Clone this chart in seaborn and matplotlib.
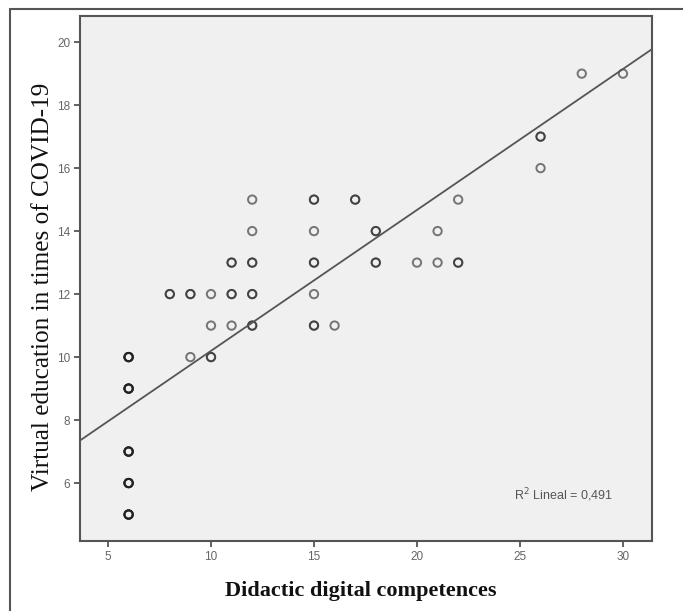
import numpy as np
import pandas as pd
import matplotlib.pyplot as plt
import seaborn as sns
from matplotlib.lines import Line2D
plt.switch_backend("Agg")

# points; darker circles are repeated cases
comp_x = [6, 6, 6, 6, 6, 8, 9, 9, 10, 10, 10, 11, 11, 11, 12, 12, 12, 12, 12,
          15, 15, 15, 15, 15, 16, 17, 18, 18, 20, 21, 21, 22, 22, 26, 26, 28, 30]
virt_y = [10, 9, 7, 6, 5, 12, 12, 10, 12, 11, 10, 13, 12, 11, 15, 14, 13, 12, 11,
          15, 14, 13, 12, 11, 11, 15, 14, 13, 13, 14, 13, 15, 13, 17, 16, 19, 19]
n_cases = [5, 5, 5, 5, 5, 2, 2, 1, 1, 1, 2, 2, 2, 1, 1, 1, 2, 2, 2,
           2, 1, 2, 1, 2, 1, 2, 2, 2, 1, 1, 1, 1, 2, 2, 1, 1, 1]

x_ticks = [5, 10, 15, 20, 25, 30]
y_ticks = [6, 8, 10, 12, 14, 16, 18, 20]
r2_label = "R$^2$ Lineal = 0,491"

df = pd.DataFrame({
    "x": np.repeat(comp_x, n_cases),
    "y": np.repeat(virt_y, n_cases),
})

sns.set_style("ticks")
plt.rcParams["font.family"] = ["Liberation Sans", "DejaVu Sans"]

grey = "#555555"
fig = plt.figure(figsize=(6.83, 6.11), dpi=100)
ax = fig.add_axes([80 / 683, 70 / 611, 572 / 683, 525 / 611])
ax.set_facecolor("#f0f0f0")
ax.set_xlim(3.64, 31.41)
ax.set_ylim(4.16, 20.83)

sns.scatterplot(data=df, x="x", y="y", ax=ax, marker="o", s=36,
                facecolor="none", edgecolor=(0.13, 0.13, 0.13, 0.6),
                linewidth=1.4, legend=False)
sns.regplot(data=df, x="x", y="y", ax=ax, scatter=False, ci=None,
            truncate=False, line_kws={"color": grey, "linewidth": 1.3})

ax.set_xticks(x_ticks)
ax.set_yticks(y_ticks)
ax.tick_params(direction="out", length=4, width=1.3, color=grey,
               labelsize=8.5, labelcolor="#666666", pad=3)
for sp in ax.spines.values():
    sp.set_color(grey)
    sp.set_linewidth(1.5)

ax.text(24.7, 5.6, r2_label, fontsize=9, color="#555555",
        ha="left", va="center")

ax.set_xlabel("Didactic digital competences", family="Liberation Serif",
              fontsize=16, fontweight="bold", color="#111111")
ax.xaxis.set_label_coords(0.49, -0.077)
ax.set_ylabel("Virtual education in times of COVID-19",
              family="Liberation Serif", fontsize=18.2, color="#111111")
ax.yaxis.set_label_coords(-0.045, 0.5 - 8 / 525)

# outer frame of the original figure
fig.add_artist(Line2D([10 / 683, 1], [1 - 9 / 611, 1 - 9 / 611],
                      color=grey, linewidth=1.5))
fig.add_artist(Line2D([10 / 683, 10 / 683], [0, 1 - 9 / 611],
                      color=grey, linewidth=1.5))

fig.savefig("out.png")
